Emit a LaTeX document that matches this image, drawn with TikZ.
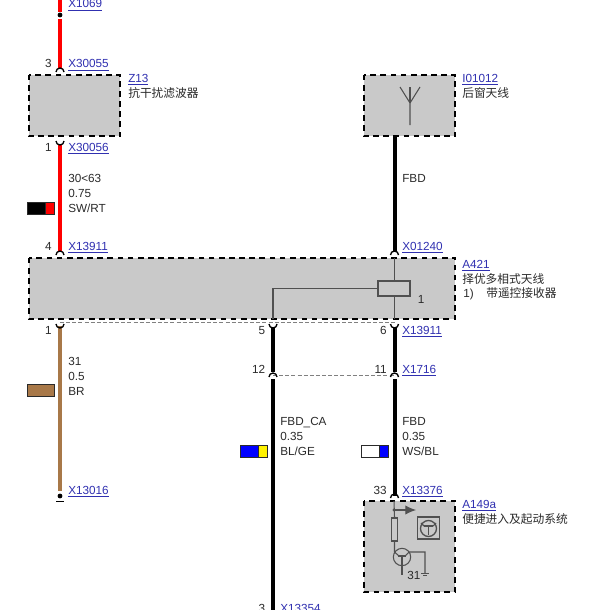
\documentclass[tikz,border=0pt]{standalone}
\usepackage{fontspec}
\usetikzlibrary{arrows.meta}
\setmainfont{Liberation Sans}
\newfontfamily\cjk{Noto Sans CJK SC}
\definecolor{linkblue}{HTML}{3030B0}
\definecolor{boxgray}{HTML}{C9C9C9}
\definecolor{txtgray}{HTML}{2A2A2A}
\definecolor{wirebrown}{HTML}{A87848}
\definecolor{thingray}{HTML}{505050}
\tikzset{
 modbox/.style={fill=boxgray, inner sep=0pt, minimum width=68.25pt, minimum height=45.75pt},
 modedge/.style={draw=black, line width=1.5pt, dash pattern=on 4.3pt off 3.3pt},
 lbl/.style={anchor=base west, inner sep=0pt, text=txtgray, font=\fontsize{8.8}{10}\selectfont},
 pinlbl/.style={anchor=base east, inner sep=0pt, text=txtgray, font=\fontsize{8.8}{10}\selectfont},
 lnk/.style={lbl, text=linkblue},
 wire/.style={line width=3pt},
 thin wire/.style={draw=thingray, line width=0.8pt},
 dash wire/.style={draw=gray, line width=0.7pt, dash pattern=on 3pt off 1.6pt},
 chip/.style={draw=txtgray, line width=0.5pt},
 conup/.pic={\draw[line width=1pt] (-4,0) arc[start angle=180, end angle=360, radius=4];},
 condown/.pic={\draw[line width=1pt] (-4,0) arc[start angle=180, end angle=0, radius=4];}
}
\newcommand{\lk}[1]{\underline{#1}}
\begin{document}
\begin{tikzpicture}[x=0.75pt, y=-0.75pt]
 \useasboundingbox (0,0) rectangle (602,610);

 % dashed shield lines
 \coordinate (shtop1) at (60,322);
 \coordinate (shtop2) at (394.5,322);
 \coordinate (shmid1) at (273,375.5);
 \coordinate (shmid2) at (394.5,375.5);
 \draw[dash wire] (shtop1) -- (shtop2);
 \draw[dash wire] (shmid1) -- (shmid2);

 % modules
 \node[modbox] (z13) at (74.5,105.5) {};
 \node[modbox] (i01012) at (409.5,105.5) {};
 \node[modbox, minimum width=319.5pt] (a421) at (242,288.5) {};
 \node[modbox, minimum height=68.25pt] (a149a) at (409.5,546.5) {};
 \draw[modedge] (z13.north west) rectangle (z13.south east);
 \draw[modedge] (i01012.north west) rectangle (i01012.south east);
 \draw[modedge] (a421.north west) rectangle (a421.south east);
 \draw[modedge] (a149a.north west) rectangle (a149a.south east);

 % red wire
 \coordinate (rtop) at (60,0);
 \coordinate (r1069) at (60,12);
 \coordinate (r3a) at (60,19);
 \coordinate (r3b) at (60,69);
 \coordinate (r1a) at (60,144);
 \coordinate (r4b) at (60,252);
 \draw[wire, red] (rtop) -- (r1069);
 \draw[wire, red] (r3a) -- (r3b);
 \draw[wire, red] (r1a) -- (r4b);
 \node[circle, fill=black, inner sep=0pt, minimum size=3.6pt] (dot1069) at (60,15) {};

 % brown wire
 \coordinate (b1) at (60,326);
 \coordinate (b2) at (60,491);
 \draw[wire, wirebrown] (b1) -- (b2);
 \node[circle, fill=black, inner sep=0pt, minimum size=3.6pt] (dot13016) at (60,496) {};
 \coordinate (gnd1) at (56,501.5);
 \coordinate (gnd2) at (64,501.5);
 \draw[line width=1.1pt] (gnd1) -- (gnd2);

 % black wires
 \coordinate (k5a) at (273,327);
 \coordinate (k12a) at (273,372);
 \coordinate (k12b) at (273,379);
 \coordinate (k3b) at (273,610);
 \draw[wire] (k5a) -- (k12a);
 \draw[wire] (k12b) -- (k3b);
 \coordinate (f1) at (394.5,252);
 \coordinate (f2) at (394.5,327);
 \coordinate (f3) at (394.5,372);
 \coordinate (f4) at (394.5,379);
 \coordinate (f5) at (394.5,496);
 \draw[wire] (i01012.south -| f1) -- (f1);
 \draw[wire] (f2) -- (f3);
 \draw[wire] (f4) -- (f5);

 % connector marks
 \pic at (60,72) {conup};
 \pic at (60,141) {condown};
 \pic at (60,255) {conup};
 \pic at (60,324) {condown};
 \pic at (273,324) {condown};
 \pic at (273,377) {conup};
 \pic at (394.5,255) {conup};
 \pic at (394.5,324) {condown};
 \pic at (394.5,377) {conup};
 \pic at (394.5,498) {conup};

 % antenna
 \coordinate (ant0) at (410,125);
 \coordinate (ant1) at (410,103);
 \coordinate (ant2) at (400,87);
 \coordinate (ant3) at (420,87);
 \coordinate (ant4) at (410,87);
 \draw[thin wire] (ant0) -- (ant1) -- (ant2);
 \draw[thin wire] (ant1) -- (ant3);
 \draw[thin wire] (ant1) -- (ant4);

 % A421 inside
 \node[thin wire, draw, fill=boxgray, inner sep=0pt, minimum width=24pt, minimum height=11.25pt] (relay) at (394,288.5) {};
 \coordinate (a421t) at (394.5,258);
 \coordinate (a421b) at (394.5,319);
 \coordinate (a421l) at (273,319);
 \draw[thin wire] (a421t) -- (relay.north -| a421t);
 \draw[thin wire] (relay.south -| a421t) -- (a421b);
 \draw[thin wire] (relay.west) -- (a421l |- relay.west) -- (a421l);
 \node[lbl] (n1) at (417.5,303) {1};

 % A149a inside
 \coordinate (s0) at (394,501);
 \coordinate (s1) at (394,510);
 \coordinate (s2) at (416,510);
 \node[thin wire, draw, fill=boxgray, inner sep=0pt, minimum width=4.2pt, minimum height=17.25pt] (res) at (394.5,529.5) {};
 \node[thin wire, draw, circle, inner sep=0pt, minimum size=13pt] (trans) at (402,557) {};
 \coordinate (t1) at (394.5,552);
 \coordinate (t2) at (402,575);
 \coordinate (t3) at (409,552);
 \coordinate (t4) at (425,552);
 \coordinate (t5) at (425,573);
 \draw[thin wire] (s0) -- (res.north);
 \draw[thin wire, -{Latex[length=8pt, width=7pt]}, fill=thingray] (s1) -- (s2);
 \node[circle, fill=thingray, inner sep=0pt, minimum size=2.6pt] (dotsw) at (s1) {};
 \draw[thin wire] (res.south) -- (t1) -- (399,556);
 \draw[thin wire] (405,556) -- (t3) -- (t4) -- (t5);
 \draw[thin wire] (402,556) -- (t2);
 \draw[thin wire, line width=1.3pt] (398,556) -- (406,556);
 \draw[thin wire] (421,573.5) -- (429,573.5);
 \draw[thin wire] (423,575.5) -- (427,575.5);
 \node[lbl] (n31) at (407,579) {31};
 \node[draw=thingray, line width=1pt, fill=boxgray, inner sep=0pt, minimum size=16.5pt] (icon) at (428.5,528) {};
 \node[draw=thingray, line width=1pt, circle, inner sep=0pt, minimum size=12pt] (iconc) at (428.5,528.5) {};
 \draw[thin wire, line width=1.2pt] (424,526) -- (433,526);
 \draw[thin wire] (428.5,526) -- (428.5,535);
 \draw[thin wire] (424,526) -- (421,523);
 \draw[thin wire] (433,526) -- (436,523);

 % colour chips
 \node[chip, fill=black, inner sep=0pt, minimum width=20pt, minimum height=9pt] (chip1) at (40.5,208) {};
 \node[chip, fill=red, inner sep=0pt, minimum width=6.5pt, minimum height=9pt, anchor=east] (chip1b) at (chip1.east) {};
 \node[chip, fill=wirebrown, inner sep=0pt, minimum width=20pt, minimum height=9pt] (chip2) at (40.5,390.5) {};
 \node[chip, fill=blue, inner sep=0pt, minimum width=20pt, minimum height=9pt] (chip3) at (253.5,451.5) {};
 \node[chip, fill=yellow, inner sep=0pt, minimum width=6.5pt, minimum height=9pt, anchor=east] (chip3b) at (chip3.east) {};
 \node[chip, fill=white, inner sep=0pt, minimum width=20pt, minimum height=9pt] (chip4) at (374.5,451.5) {};
 \node[chip, fill=blue, inner sep=0pt, minimum width=6.5pt, minimum height=9pt, anchor=east] (chip4b) at (chip4.east) {};

 % connector labels
 \node[lnk] (l1069) at (68,8) {\lk{X1069}};
 \node[lnk] (l30055) at (68,68) {\lk{X30055}};
 \node[lnk] (l30056) at (68,151) {\lk{X30056}};
 \node[lnk] (l13911a) at (68,250) {\lk{X13911}};
 \node[lnk] (l01240) at (402,250) {\lk{X01240}};
 \node[lnk] (l13911b) at (402,334) {\lk{X13911}};
 \node[lnk] (l1716) at (402,373) {\lk{X1716}};
 \node[lnk] (l13016) at (68,494) {\lk{X13016}};
 \node[lnk] (l13376) at (402,494) {\lk{X13376}};
 \node[lnk] (l13354) at (280,612) {\lk{X13354}};

 % component labels
 \node[lnk] (lz13) at (128,82.5) {\lk{Z13}};
 \node[lbl] (tz13) at (128,98) {\cjk 抗干扰滤波器};
 \node[lnk] (li01012) at (462,82.5) {\lk{I01012}};
 \node[lbl] (ti01012) at (462,98) {\cjk 后窗天线};
 \node[lnk] (la421) at (462,268.5) {\lk{A421}};
 \node[lbl] (ta421) at (462,283.5) {\cjk 择优多相式天线};
 \node[lbl] (ta421b) at (463,297) {1)};
 \node[lbl] (ta421c) at (486,297.5) {\cjk 带遥控接收器};
 \node[lnk] (la149a) at (462,508.5) {\lk{A149a}};
 \node[lbl] (ta149a) at (462,523.5) {\cjk 便捷进入及起动系统};

 % pin numbers
 \node[pinlbl] (p3) at (52,68) {3};
 \node[pinlbl] (p1) at (52,151) {1};
 \node[pinlbl] (p4) at (52,250) {4};
 \node[pinlbl] (p1b) at (52,334) {1};
 \node[pinlbl] (p5) at (265.5,334) {5};
 \node[pinlbl] (p12) at (265.5,373) {12};
 \node[pinlbl] (p6) at (387,334) {6};
 \node[pinlbl] (p11) at (387,373) {11};
 \node[pinlbl] (p33) at (387,494) {33};
 \node[pinlbl] (p3b) at (265.5,612) {3};

 % wire data
 \node[lbl] (d1a) at (68,182) {30<63};
 \node[lbl] (d1b) at (68,197) {0.75};
 \node[lbl] (d1c) at (68,212) {SW/RT};
 \node[lbl] (d2) at (402,182) {FBD};
 \node[lbl] (d3a) at (68,365) {31};
 \node[lbl] (d3b) at (68,380) {0.5};
 \node[lbl] (d3c) at (68,395) {BR};
 \node[lbl] (d4a) at (280,425) {FBD\_CA};
 \node[lbl] (d4b) at (280,440) {0.35};
 \node[lbl] (d4c) at (280,455) {BL/GE};
 \node[lbl] (d5a) at (402,425) {FBD};
 \node[lbl] (d5b) at (402,440) {0.35};
 \node[lbl] (d5c) at (402,455) {WS/BL};
\end{tikzpicture}
\end{document}
